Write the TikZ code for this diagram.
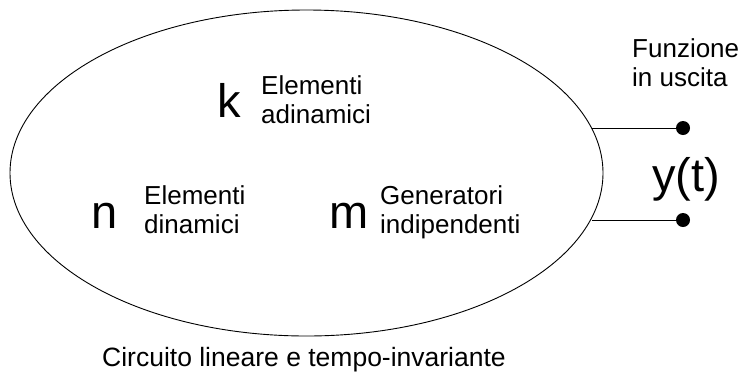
\documentclass[tikz,border=0pt]{standalone}
\usepackage{fontspec}
\setmainfont{Liberation Sans}
\usetikzlibrary{shapes.geometric}
\begin{document}
\begin{tikzpicture}[x=1pt,y=-1pt,
  big/.style={font=\fontsize{47}{52}\selectfont, inner sep=0pt},
  small/.style={font=\fontsize{26}{29}\selectfont, align=left, inner sep=0pt},
  caption/.style={font=\fontsize{26.5}{30}\selectfont, inner sep=0pt},
  termdot/.style={circle, fill=black, inner sep=0pt, minimum size=14pt},
  wire/.style={line width=0.8pt}]
\useasboundingbox (0,0) rectangle (744,373);
\node[draw, ellipse, line width=0.9pt, minimum width=593pt, minimum height=326pt, inner sep=0pt] (circ) at (306.5,173) {};
\node[termdot] (d1) at (683,128) {};
\node[termdot] (d2) at (683,220) {};
\draw[wire] (circ.9 |- d1) -- (d1);
\draw[wire] (circ.-9 |- d2) -- (d2);
\node[small, anchor=base west] (fout) at (632,86) {Funzione\\in uscita};
\node[big, anchor=base] (y) at (686,191) {y(t)};
\node[big, anchor=base west] (k) at (217,117) {k};
\node[small, anchor=base west] (kt) at (261,123) {Elementi\\adinamici};
\node[big, anchor=base west] (n) at (91,228) {n};
\node[small, anchor=base west] (nt) at (144,233) {Elementi\\dinamici};
\node[big, anchor=base west] (m) at (329,228) {m};
\node[small, anchor=base west] (mt) at (380,233) {Generatori\\indipendenti};
\node[caption, anchor=base] (cap) at (304,366) {Circuito lineare e tempo-invariante};
\end{tikzpicture}
\end{document}
